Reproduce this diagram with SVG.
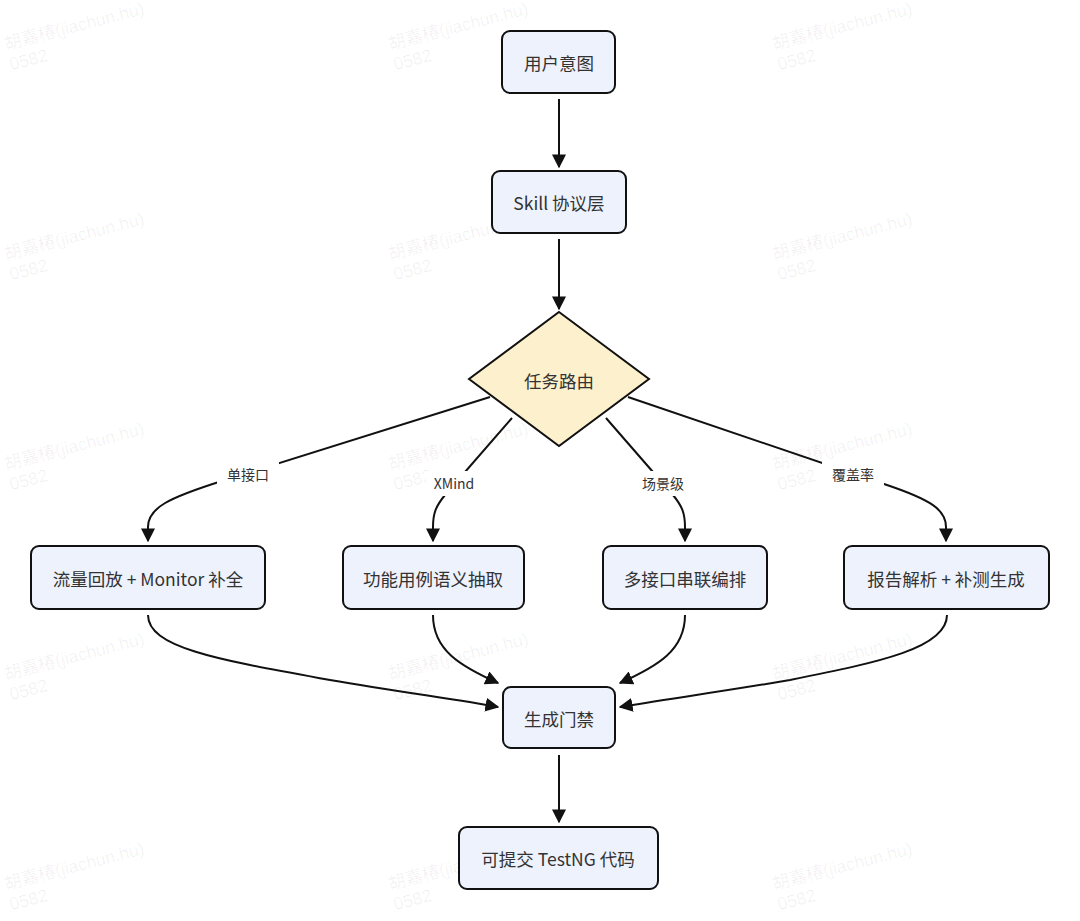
<svg xmlns="http://www.w3.org/2000/svg" width="1080" height="921" viewBox="0 0 1080 921">
<defs>
<style>
.wm{font-family:"Liberation Sans","Noto Sans CJK SC",sans-serif;font-size:17.5px;fill:#000;fill-opacity:0.06}
.box{fill:#eef2fc;stroke:#111;stroke-width:2}
.dia{fill:#fdf0cc;stroke:#111;stroke-width:2}
.lbl{font-family:"Noto Sans CJK SC","Noto Sans",sans-serif;font-size:17.5px;fill:#333;text-anchor:middle;dominant-baseline:central}
.elbl{font-family:"Noto Sans CJK SC","Noto Sans",sans-serif;font-size:14px;fill:#333;text-anchor:middle;dominant-baseline:central}
.edge{fill:none;stroke:#111;stroke-width:2}
.lblbg{fill:#fff}
</style>
<marker id="arr" viewBox="0 0 10 10" refX="9" refY="5" markerWidth="14" markerHeight="14" markerUnits="userSpaceOnUse" orient="auto">
<path d="M0,0 L10,5 L0,10 z" fill="#111"/>
</marker>
</defs>
<rect width="1080" height="921" fill="#fff"/>
<g id="watermarks">
<g transform="translate(6,50) rotate(-14.5)"><text class="wm" x="0" y="0">胡嘉椿(jiachun.hu)</text><text class="wm" x="0" y="21">0582</text></g>
<g transform="translate(390,50) rotate(-14.5)"><text class="wm" x="0" y="0">胡嘉椿(jiachun.hu)</text><text class="wm" x="0" y="21">0582</text></g>
<g transform="translate(774,50) rotate(-14.5)"><text class="wm" x="0" y="0">胡嘉椿(jiachun.hu)</text><text class="wm" x="0" y="21">0582</text></g>
<g transform="translate(6,260) rotate(-14.5)"><text class="wm" x="0" y="0">胡嘉椿(jiachun.hu)</text><text class="wm" x="0" y="21">0582</text></g>
<g transform="translate(390,260) rotate(-14.5)"><text class="wm" x="0" y="0">胡嘉椿(jiachun.hu)</text><text class="wm" x="0" y="21">0582</text></g>
<g transform="translate(774,260) rotate(-14.5)"><text class="wm" x="0" y="0">胡嘉椿(jiachun.hu)</text><text class="wm" x="0" y="21">0582</text></g>
<g transform="translate(6,470) rotate(-14.5)"><text class="wm" x="0" y="0">胡嘉椿(jiachun.hu)</text><text class="wm" x="0" y="21">0582</text></g>
<g transform="translate(390,470) rotate(-14.5)"><text class="wm" x="0" y="0">胡嘉椿(jiachun.hu)</text><text class="wm" x="0" y="21">0582</text></g>
<g transform="translate(774,470) rotate(-14.5)"><text class="wm" x="0" y="0">胡嘉椿(jiachun.hu)</text><text class="wm" x="0" y="21">0582</text></g>
<g transform="translate(6,680) rotate(-14.5)"><text class="wm" x="0" y="0">胡嘉椿(jiachun.hu)</text><text class="wm" x="0" y="21">0582</text></g>
<g transform="translate(390,680) rotate(-14.5)"><text class="wm" x="0" y="0">胡嘉椿(jiachun.hu)</text><text class="wm" x="0" y="21">0582</text></g>
<g transform="translate(774,680) rotate(-14.5)"><text class="wm" x="0" y="0">胡嘉椿(jiachun.hu)</text><text class="wm" x="0" y="21">0582</text></g>
<g transform="translate(6,890) rotate(-14.5)"><text class="wm" x="0" y="0">胡嘉椿(jiachun.hu)</text><text class="wm" x="0" y="21">0582</text></g>
<g transform="translate(390,890) rotate(-14.5)"><text class="wm" x="0" y="0">胡嘉椿(jiachun.hu)</text><text class="wm" x="0" y="21">0582</text></g>
<g transform="translate(774,890) rotate(-14.5)"><text class="wm" x="0" y="0">胡嘉椿(jiachun.hu)</text><text class="wm" x="0" y="21">0582</text></g>
</g>
<g id="connectors">
<path class="edge" d="M559,99 L559,167" marker-end="url(#arr)"/>
<path class="edge" d="M559,239 L559,309" marker-end="url(#arr)"/>
<path class="edge" d="M490,397 L222,481 C168,498 148,508 148,527 L148,541" marker-end="url(#arr)"/>
<path class="edge" d="M512,418 L445,495 C436,506 433,513 433,527 L433,541" marker-end="url(#arr)"/>
<path class="edge" d="M606,418 L673,495 C682,506 685,513 685,527 L685,541" marker-end="url(#arr)"/>
<path class="edge" d="M628,397 L884,484 C932,500 946,510 946,527 L946,541" marker-end="url(#arr)"/>
<path class="edge" d="M148,615 C148,648 220,660 330,680 C400,692 460,700 498,707" marker-end="url(#arr)"/>
<path class="edge" d="M433,615 C433,650 460,666 498,683" marker-end="url(#arr)"/>
<path class="edge" d="M685,615 C685,650 658,666 620,683" marker-end="url(#arr)"/>
<path class="edge" d="M947,615 C947,648 880,662 790,680 C720,692 660,700 620,707" marker-end="url(#arr)"/>
<path class="edge" d="M559,755 L559,822" marker-end="url(#arr)"/>
<rect class="lblbg" x="217" y="462" width="62" height="25"/>
<text class="elbl" x="248" y="474">单接口</text>
<rect class="lblbg" x="426" y="471" width="56" height="25"/>
<text class="elbl" x="454" y="483">XMind</text>
<rect class="lblbg" x="634" y="471" width="58" height="25"/>
<text class="elbl" x="663" y="483">场景级</text>
<rect class="lblbg" x="822" y="462" width="62" height="25"/>
<text class="elbl" x="853" y="474">覆盖率</text>
</g>
<g id="node-intent">
<rect class="box" x="502" y="31" width="113" height="62" rx="8"/>
<text class="lbl" x="559" y="62">用户意图</text>
</g>
<g id="node-skill">
<rect class="box" x="492" y="171" width="134" height="62" rx="8"/>
<text class="lbl" x="559" y="202">Skill 协议层</text>
</g>
<g id="node-route">
<polygon class="dia" points="559,312 649,379 559,446 469,379"/>
<text class="lbl" x="559" y="380">任务路由</text>
</g>
<g id="node-replay">
<rect class="box" x="31" y="546" width="234" height="63" rx="8"/>
<text class="lbl" x="148" y="578">流量回放 + Monitor 补全</text>
</g>
<g id="node-xmind">
<rect class="box" x="343" y="546" width="181" height="63" rx="8"/>
<text class="lbl" x="433" y="578">功能用例语义抽取</text>
</g>
<g id="node-scene">
<rect class="box" x="603" y="546" width="164" height="63" rx="8"/>
<text class="lbl" x="685" y="578">多接口串联编排</text>
</g>
<g id="node-coverage">
<rect class="box" x="844" y="546" width="205" height="63" rx="8"/>
<text class="lbl" x="946" y="578">报告解析 + 补测生成</text>
</g>
<g id="node-gate">
<rect class="box" x="503" y="687" width="112" height="61" rx="8"/>
<text class="lbl" x="559" y="718">生成门禁</text>
</g>
<g id="node-code">
<rect class="box" x="459" y="827" width="199" height="62" rx="8"/>
<text class="lbl" x="558" y="858">可提交 TestNG 代码</text>
</g>
</svg>
